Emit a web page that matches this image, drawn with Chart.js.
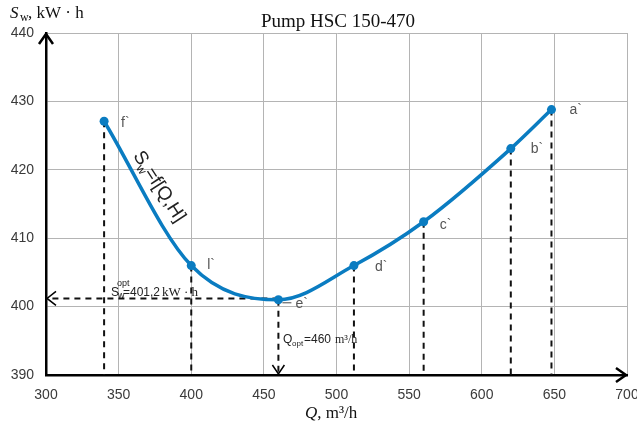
<!DOCTYPE html>
<html>
<head>
<meta charset="utf-8">
<script src="https://cdn.jsdelivr.net/npm/chart.js@4.4.1/dist/chart.umd.min.js"></script>
<style>
  html, body { margin: 0; padding: 0; background: #fff; }
  #wrap { width: 637px; height: 430px; position: relative; }
</style>
</head>
<body>
<div id="wrap"><canvas id="chart"></canvas></div>
<script>
// points of the Sw = f(Q,H) curve
const qValues = [340, 400, 460, 512, 560, 620, 648];
const swValues = [427.1, 406.0, 401.0, 406.0, 412.4, 423.1, 428.8];
const pointNames = ['f`', 'l`', 'e`', 'd`', 'c`', 'b`', 'a`'];

const xTicks = [300, 350, 400, 450, 500, 550, 600, 650, 700];
const yTicks = [390, 400, 410, 420, 430, 440];

const optQ = 460;
const optSw = 401.2;

const blue = '#0a7cc1';

// dashed drop lines from each point to the Q axis
const dropSets = qValues.map((q, i) => ({
  data: [{ x: q, y: swValues[i] }, { x: q, y: yTicks[0] }],
  borderColor: '#111',
  borderWidth: 2,
  borderDash: [6, 5],
  pointRadius: 0,
  fill: false
}));

const optLine = {
  data: [{ x: optQ, y: optSw }, { x: xTicks[0], y: optSw }],
  borderColor: '#111',
  borderWidth: 2,
  borderDash: [6, 5],
  pointRadius: 0,
  fill: false
};

const curve = {
  data: qValues.map((q, i) => ({ x: q, y: swValues[i] })),
  borderColor: blue,
  backgroundColor: blue,
  borderWidth: 3.5,
  pointRadius: 4.5,
  pointBackgroundColor: blue,
  pointBorderWidth: 0,
  cubicInterpolationMode: 'monotone',
  fill: false
};

const extras = {
  id: 'extras',
  afterDraw(chart) {
    const ctx = chart.ctx;
    const xs = chart.scales.x, ys = chart.scales.y;
    const a = chart.chartArea;
    ctx.save();

    // axis arrowheads
    ctx.strokeStyle = '#000';
    ctx.lineWidth = 2.5;
    ctx.beginPath();
    ctx.moveTo(a.left - 7, a.top + 11);
    ctx.lineTo(a.left, a.top + 1);
    ctx.lineTo(a.left + 7, a.top + 11);
    ctx.moveTo(a.right - 11, a.bottom - 7);
    ctx.lineTo(a.right - 1, a.bottom);
    ctx.lineTo(a.right - 11, a.bottom + 7);
    ctx.stroke();

    // open arrowheads on the optimum lines
    ctx.lineWidth = 1.5;
    const oy = ys.getPixelForValue(optSw);
    const ox = xs.getPixelForValue(optQ);
    ctx.beginPath();
    ctx.moveTo(a.left + 10, oy - 7);
    ctx.lineTo(a.left + 1, oy);
    ctx.lineTo(a.left + 10, oy + 7);
    ctx.moveTo(ox - 6, a.bottom - 10);
    ctx.lineTo(ox, a.bottom - 1);
    ctx.lineTo(ox + 6, a.bottom - 10);
    ctx.stroke();

    // point names
    ctx.fillStyle = '#555';
    ctx.font = '14px "Liberation Sans", sans-serif';
    ctx.textBaseline = 'middle';
    ctx.textAlign = 'left';
    const offs = [[17, 2], [16, 0], [17, 4], [21, 2], [16, 3], [20, 1], [18, 1]];
    qValues.forEach((q, i) => {
      const px = xs.getPixelForValue(q), py = ys.getPixelForValue(swValues[i]);
      ctx.fillText(pointNames[i], px + offs[i][0], py + offs[i][1]);
    });
    // small tick after e`
    const ex = xs.getPixelForValue(qValues[2]), ey = ys.getPixelForValue(swValues[2]);
    ctx.strokeStyle = '#666';
    ctx.lineWidth = 1.2;
    ctx.beginPath();
    ctx.moveTo(ex + 4, ey + 3);
    ctx.lineTo(ex + 13, ey + 3);
    ctx.stroke();

    // rotated curve label
    ctx.save();
    ctx.translate(160, 188);
    ctx.rotate(57 * Math.PI / 180);
    ctx.fillStyle = '#222';
    ctx.textBaseline = 'middle';
    ctx.textAlign = 'left';
    ctx.font = '19px "Liberation Sans", sans-serif';
    ctx.fillText('S', -42, 0);
    ctx.font = '12px "Liberation Sans", sans-serif';
    ctx.fillText('w', -30, 6);
    ctx.font = '19px "Liberation Sans", sans-serif';
    ctx.fillText('=f[Q,H]', -22, 0);
    ctx.restore();

    // Sw opt annotation
    ctx.fillStyle = '#222';
    ctx.textBaseline = 'alphabetic';
    ctx.textAlign = 'left';
    ctx.font = '12px "Liberation Sans", sans-serif';
    ctx.fillText('S', 111, 296);
    ctx.font = '9px "Liberation Sans", sans-serif';
    ctx.fillText('w', 118, 298);
    ctx.fillText('opt', 117, 286);
    ctx.font = '12px "Liberation Sans", sans-serif';
    ctx.fillText('=401,2', 123, 296);
    ctx.font = '13px "Liberation Serif", serif';
    ctx.fillText('kW · h', 162, 296);

    // Q opt annotation
    ctx.font = '12px "Liberation Sans", sans-serif';
    ctx.fillText('Q', 283, 343);
    ctx.font = '8px "Liberation Sans", sans-serif';
    ctx.fillText('opt', 292, 346);
    ctx.font = '12px "Liberation Sans", sans-serif';
    ctx.fillText('=460', 304, 343);
    ctx.font = '12px "Liberation Serif", serif';
    ctx.fillText('m³/h', 335, 343);

    // titles
    ctx.fillStyle = '#111';
    ctx.textAlign = 'center';
    ctx.font = '19px "Liberation Serif", serif';
    ctx.fillText('Pump HSC 150-470', 338, 27);

    ctx.textAlign = 'left';
    ctx.font = 'italic 17px "Liberation Serif", serif';
    ctx.fillText('S', 10, 18);
    ctx.font = '12px "Liberation Serif", serif';
    ctx.fillText('w', 20, 21);
    ctx.font = '17px "Liberation Serif", serif';
    ctx.fillText(', kW · h', 28, 18);

    ctx.font = 'italic 17px "Liberation Serif", serif';
    ctx.fillText('Q', 305, 418);
    const qw = ctx.measureText('Q').width;
    ctx.font = '17px "Liberation Serif", serif';
    ctx.fillText(', m³/h', 305 + qw, 418);

    ctx.restore();
  }
};

new Chart(document.getElementById('chart'), {
  type: 'line',
  data: { datasets: [curve, ...dropSets, optLine] },
  plugins: [extras],
  options: {
    responsive: true,
    maintainAspectRatio: false,
    animation: false,
    layout: { padding: { top: 33, right: 10, left: 0, bottom: 0 } },
    plugins: { legend: { display: false }, tooltip: { enabled: false }, title: { display: false } },
    scales: {
      x: {
        type: 'linear',
        min: xTicks[0],
        max: xTicks[xTicks.length - 1],
        afterBuildTicks: s => { s.ticks = xTicks.map(v => ({ value: v })); },
        afterFit: s => { s.height = 55; s.paddingLeft = 0; s.paddingRight = 0; },
        grid: { color: '#b4b4b4', lineWidth: 1, drawTicks: false },
        border: { display: true, color: '#000', width: 2.5 },
        ticks: {
          padding: 12,
          color: '#3a3a3a',
          font: { family: '"Liberation Sans", sans-serif', size: 14 }
        }
      },
      y: {
        min: yTicks[0],
        max: yTicks[yTicks.length - 1],
        afterBuildTicks: s => { s.ticks = yTicks.map(v => ({ value: v })); },
        afterFit: s => { s.width = 46; },
        grid: { color: '#b4b4b4', lineWidth: 1, drawTicks: false },
        border: { display: true, color: '#000', width: 2.5 },
        ticks: {
          padding: 12,
          color: '#3a3a3a',
          font: { family: '"Liberation Sans", sans-serif', size: 14 }
        }
      }
    }
  }
});
</script>
</body>
</html>
